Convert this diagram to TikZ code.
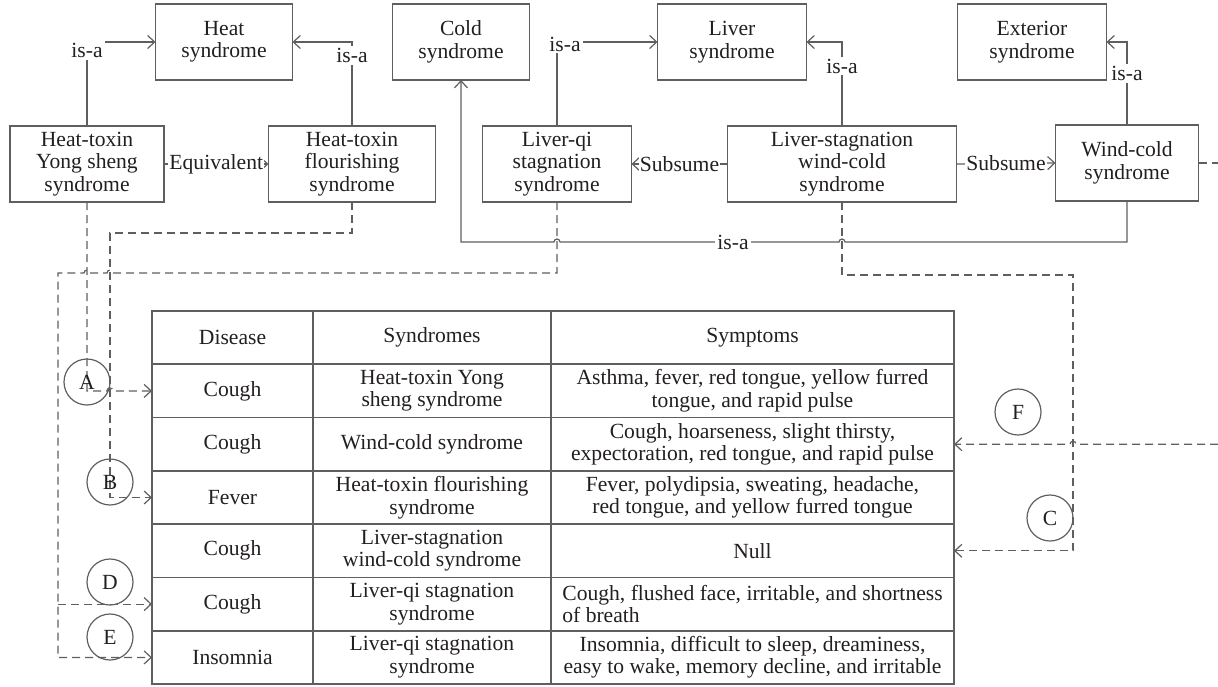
\documentclass[tikz,border=0pt]{standalone}
\usepackage{fontspec}
\setmainfont{Liberation Serif}
\usetikzlibrary{arrows.meta}
\definecolor{lineg}{RGB}{95,95,95}
\definecolor{txt}{RGB}{35,31,32}

\begin{document}
\begin{tikzpicture}[x=0.5pt,y=-0.5pt,color=lineg,line width=0.6pt,
	every node/.style={font=\fontsize{10.8}{11.25}\selectfont, text=txt},
	>={Straight Barb[length=3.5pt,width=6.5pt]},
	synbox/.style={draw, align=center, minimum width=#1, minimum height=38pt, inner sep=0pt, outer sep=0pt},
	lbl/.style={fill=white, inner sep=1pt},
	dline/.style={dash pattern=on 4pt off 2.5pt},
	cell/.style={draw, line width=0.8pt, align=center, minimum height=26.65pt, inner sep=0pt, outer sep=0pt},
	dcell/.style={cell, minimum width=80.5pt},
	scell/.style={cell, minimum width=119pt},
	ycell/.style={cell, minimum width=201.5pt},
	circ/.style={draw, circle, minimum size=23pt, inner sep=0pt}]
	\useasboundingbox (0,0) rectangle (1218,686);

	\node[synbox=68.5pt] (heat) at (224,42) {Heat\\syndrome};
	\node[synbox=68.5pt] (cold) at (461,42) {Cold\\syndrome};
	\node[synbox=74.5pt] (liver) at (732,42) {Liver\\syndrome};
	\node[synbox=74.5pt] (ext) at (1032,42) {Exterior\\syndrome};
	\node[synbox=77pt] (ys) at (87,164) {Heat-toxin\\Yong sheng\\syndrome};
	\node[synbox=83.5pt] (flour) at (352,164) {Heat-toxin\\flourishing\\syndrome};
	\node[synbox=74.5pt] (lqi) at (557,164) {Liver-qi\\stagnation\\syndrome};
	\node[synbox=114.5pt] (lsw) at (842,164) {Liver-stagnation\\wind-cold\\syndrome};
	\node[synbox=71.5pt] (wc) at (1127,163) {Wind-cold\\syndrome};

	\draw[->] (ys.north) |- node[lbl,pos=0.45] (isa1) {is-a} (heat.west);
	\draw[->] (flour.north) |- node[lbl,pos=0.42] (isa2) {is-a} (heat.east);
	\draw[->] (lqi.north) |- node[lbl,pos=0.5,xshift=4pt,yshift=-1pt] (isa3) {is-a} (liver.west);
	\draw[->] (lsw.north) |- node[lbl,pos=0.357] (isa4) {is-a} (liver.east);
	\draw[->] (wc.north) |- node[lbl,pos=0.31] (isa5) {is-a} (ext.east);
	\draw[->] (ys.east) -- node[lbl,inner sep=0.5pt] (eqv) {Equivalent} (flour.west);
	\draw[->] (lsw.west) -- node[lbl,inner sep=0.5pt] (sub1) {Subsume} (lqi.east);
	\draw[->] (lsw.east) -- node[lbl,inner sep=0.5pt] (sub2) {Subsume} (wc.west);
	\draw[->] (wc.south) -- (1127,242) -- (845,242) arc[start angle=0,end angle=180,radius=1.5pt]
		-- (560,242) arc[start angle=0,end angle=180,radius=1.5pt] -- (461,242) -- (cold.south);
	\node[lbl] (isa6) at (733,242) {is-a};

	\node[dcell] (d0) at (232.5,337.6) {Disease};
	\node[scell] (s0) at (432,337.6) {Syndromes};
	\node[ycell] (y0) at (752.5,337.6) {Symptoms};
	\node[dcell] (d1) at (232.5,390.9) {Cough};
	\node[scell] (s1) at (432,390.9) {Heat-toxin Yong\\sheng syndrome};
	\node[ycell] (y1) at (752.5,390.9) {Asthma, fever, red tongue, yellow furred\\tongue, and rapid pulse};
	\node[dcell] (d2) at (232.5,444.2) {Cough};
	\node[scell] (s2) at (432,444.2) {Wind-cold syndrome};
	\node[ycell] (y2) at (752.5,444.2) {Cough, hoarseness, slight thirsty,\\expectoration, red tongue, and rapid pulse};
	\node[dcell] (d3) at (232.5,497.5) {Fever};
	\node[scell] (s3) at (432,497.5) {Heat-toxin flourishing\\syndrome};
	\node[ycell] (y3) at (752.5,497.5) {Fever, polydipsia, sweating, headache,\\red tongue, and yellow furred tongue};
	\node[dcell] (d4) at (232.5,550.8) {Cough};
	\node[scell] (s4) at (432,550.8) {Liver-stagnation\\wind-cold syndrome};
	\node[ycell] (y4) at (752.5,550.8) {Null};
	\node[dcell] (d5) at (232.5,604.1) {Cough};
	\node[scell] (s5) at (432,604.1) {Liver-qi stagnation\\syndrome};
	\node[ycell,align=left] (y5) at (752.5,604.1) {Cough, flushed face, irritable, and shortness\\of breath};
	\node[dcell] (d6) at (232.5,657.4) {Insomnia};
	\node[scell] (s6) at (432,657.4) {Liver-qi stagnation\\syndrome};
	\node[ycell] (y6) at (752.5,657.4) {Insomnia, difficult to sleep, dreaminess,\\easy to wake, memory decline, and irritable};

	\coordinate (wcout) at (1218,163);
	\coordinate (fin) at (1218,444.2);
	\draw[dline] (wc.east) -- (wcout);
	\draw[dline,->] (ys.south) -- (87,390.9) -- (107,390.9) arc[start angle=180,end angle=0,radius=1.5pt] -- (d1.west);
	\draw[dline,->] (flour.south) -- (352,233) -- (110,233) -- (110,497.5) -- (d3.west);
	\draw[dline,->] (lqi.south) -- (557,273) -- (113,273) arc[start angle=0,end angle=180,radius=1.5pt]
		-- (90,273) arc[start angle=0,end angle=180,radius=1.5pt] -- (58,273) -- (58,657.4) -- (d6.west);
	\draw[dline,->] (58,604.1) -- (d5.west);
	\draw[dline,->] (lsw.south) -- (842,275) -- (1073,275) -- (1073,550.8) -- (y4.east);
	\draw[dline,->] (fin) -- (1076,444.2) arc[start angle=0,end angle=180,radius=1.5pt] -- (y2.east);

	\node[circ] (ca) at (87,382) {A};
	\node[circ] (cb) at (110,482) {B};
	\node[circ] (cd) at (110,582) {D};
	\node[circ] (ce) at (110,637) {E};
	\node[circ] (cf) at (1018,412) {F};
	\node[circ] (cc) at (1050,518) {C};
\end{tikzpicture}
\end{document}
